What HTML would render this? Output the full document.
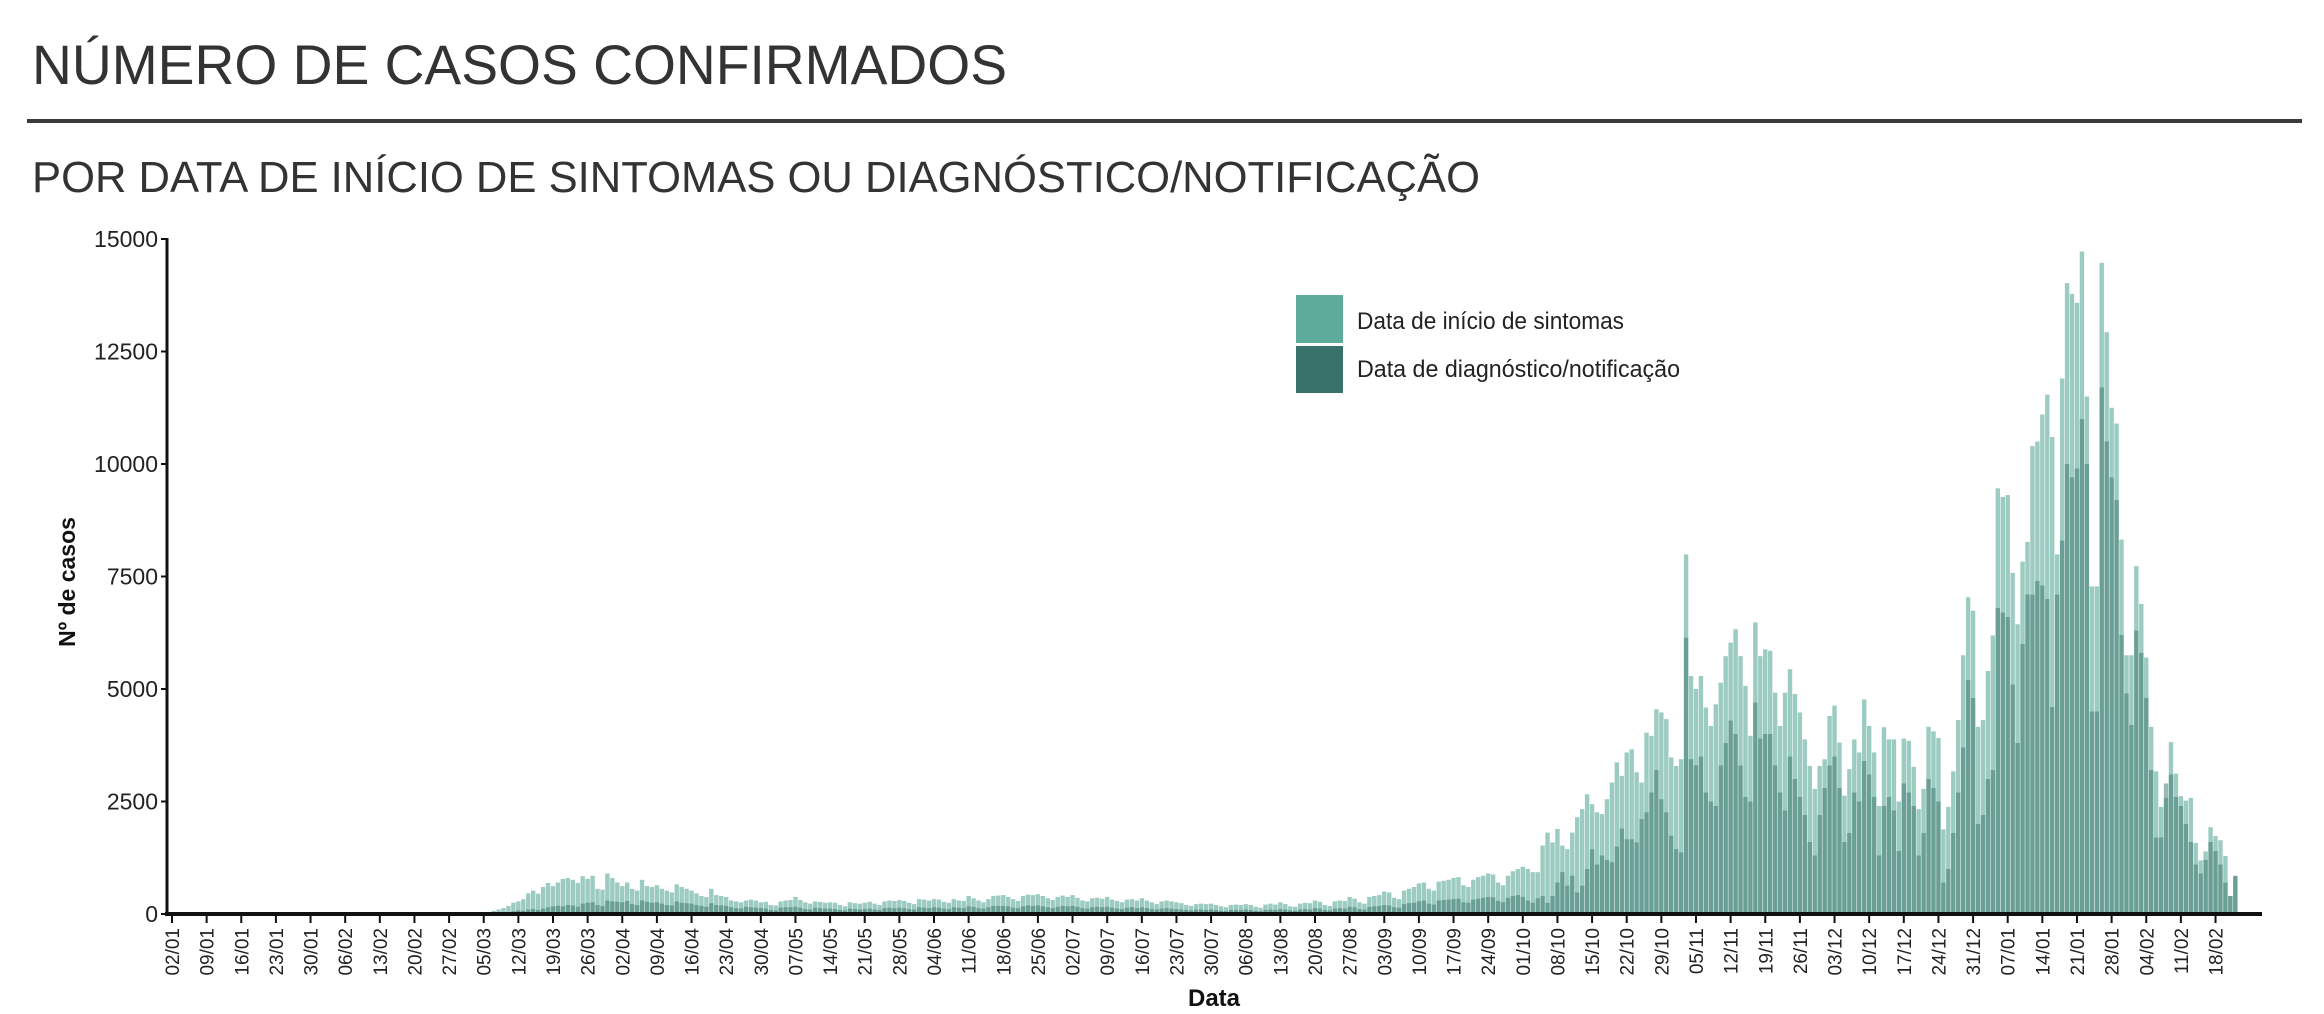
<!DOCTYPE html>
<html><head><meta charset="utf-8"><style>
html,body{margin:0;padding:0;background:#fff;}
svg{display:block;font-family:"Liberation Sans",Arial,sans-serif;}
</style></head><body>
<svg id="chart" width="2324" height="1014" viewBox="0 0 2324 1014" xmlns="http://www.w3.org/2000/svg">
<text x="32" y="84" font-size="56" fill="#333" textLength="975" lengthAdjust="spacingAndGlyphs">NÚMERO DE CASOS CONFIRMADOS</text>
<rect x="27" y="119" width="2275" height="4" fill="#3a3a3a"/>
<text x="32" y="192" font-size="44" fill="#333" textLength="1448" lengthAdjust="spacingAndGlyphs">POR DATA DE INÍCIO DE SINTOMAS OU DIAGNÓSTICO/NOTIFICAÇÃO</text>
<g id="bars-light"></g>
<g id="bars-dark"></g>
<g id="axes"></g>
<text transform="translate(75,582) rotate(-90)" text-anchor="middle" font-size="23" font-weight="bold" fill="#111">Nº de casos</text>
<text x="1214" y="1006" text-anchor="middle" font-size="24" font-weight="bold" fill="#111">Data</text>
<g>
<rect x="1296" y="295" width="47" height="48" fill="#5fab9b"/>
<rect x="1296" y="346" width="47" height="47" fill="#37736a"/>
<text x="1357" y="329" font-size="24" fill="#222" textLength="267" lengthAdjust="spacingAndGlyphs">Data de início de sintomas</text>
<text x="1357" y="377" font-size="24" fill="#222" textLength="323" lengthAdjust="spacingAndGlyphs">Data de diagnóstico/notificação</text>
</g>
</svg>
<script>
// first data day = 2020-03-01 (day index 59 counted from 2020-01-02)
const startDay = 59;
const yTicks = [0, 2500, 5000, 7500, 10000, 12500, 15000];
const xTickLabels = ["02/01","09/01","16/01","23/01","30/01","06/02","13/02","20/02","27/02","05/03","12/03","19/03","26/03","02/04","09/04","16/04","23/04","30/04","07/05","14/05","21/05","28/05","04/06","11/06","18/06","25/06","02/07","09/07","16/07","23/07","30/07","06/08","13/08","20/08","27/08","03/09","10/09","17/09","24/09","01/10","08/10","15/10","22/10","29/10","05/11","12/11","19/11","26/11","03/12","10/12","17/12","24/12","31/12","07/01","14/01","21/01","28/01","04/02","11/02","18/02"];
const symptomCases = [
0,0,5,10,
20,40,70,100,130,180,250,
280,330,460,520,450,600,690,
620,700,780,800,760,690,840,
780,850,560,540,900,800,700,
620,700,560,520,760,620,600,
640,560,520,480,660,600,560,
520,460,400,380,560,420,400,
380,300,280,260,300,320,300,
260,270,200,190,280,300,310,
380,310,260,230,280,270,250,
260,250,200,170,260,240,230,
250,270,230,200,280,300,290,
310,290,250,220,330,320,300,
330,320,270,250,330,300,290,
400,350,300,260,330,400,410,
420,380,330,290,400,430,420,
440,400,350,310,380,410,380,
420,360,300,280,350,360,340,
380,320,290,260,320,330,300,
350,300,260,220,280,300,280,
260,240,200,180,220,230,220,
230,200,170,150,200,210,200,
220,200,160,140,210,230,210,
260,220,170,160,230,250,240,
300,270,200,180,280,300,290,
380,340,260,230,380,400,420,
500,480,360,330,520,560,600,
680,700,560,520,720,740,760,
800,820,640,600,760,820,850,
900,880,700,640,850,950,1000,
1050,
1000,930,930,1520,1810,1590,1890,1520,1440,1810,2150,2330,2660,2440,2260,2220,2550,2920,3370,3070,3590,3660,3150,2920,4030,3960,4550,4480,4330,3480,3290,3440,
7990,5290,5000,5290,4590,4180,4660,5140,5730,6030,6330,5730,5070,3960,6480,5730,5880,5850,4920,4180,4920,5440,4890,4480,3880,3290,2780,3290,3440,4400,4630,3810,2630,3220,3880,3590,4770,4180,3590,2400,4150,3880,3880,2500,
3900,3850,3270,2330,2780,4160,4060,3910,1880,2380,3170,4310,5750,7040,6740,4160,4310,5400,6190,9460,9270,9310,7580,6440,7830,8270,10400,10500,11100,11540,10600,7990,11900,14020,13780,13580,14720,11500,7280,7280,14470,12930,11250,10900,8320,5750,5750,7730,6890,5700,4160,3170,2380,2580,3820,3120,2620,2520,2580,1580,1190,1390,1930,1730,1640,1290,400,840
];
const diagnosisCases = [
0,0,0,0,
0,10,15,20,30,40,60,
80,70,100,110,90,120,150,
170,180,170,200,190,160,230,
250,260,200,180,300,280,270,
260,290,220,200,300,270,250,
260,230,200,190,280,250,240,
230,200,180,160,240,200,190,
180,150,130,120,160,150,140,
130,120,90,80,140,150,150,
160,140,110,100,140,130,120,
120,110,90,80,120,110,100,
110,120,100,90,130,140,130,
140,130,110,100,150,140,130,
150,140,120,110,150,140,130,
170,160,130,120,150,180,180,
180,170,140,130,170,190,180,
190,170,150,130,160,180,170,
180,160,130,120,150,160,150,
160,140,120,110,140,150,130,
150,130,110,100,120,130,120,
110,100,90,80,100,100,90,
100,90,70,60,90,90,90,
100,90,70,60,90,100,90,
110,100,80,70,100,110,100,
130,120,90,80,120,130,120,
160,150,110,100,160,170,180,
200,190,150,140,220,240,250,
280,300,230,210,300,310,320,
330,340,260,250,320,340,360,
380,370,290,260,360,400,420,
380,
300,250,350,400,250,400,700,930,630,850,480,630,1000,1440,1100,1300,1200,1150,1500,1900,1660,1660,1590,2110,2260,2700,3200,2550,2260,1740,1440,1370,
6140,3440,3300,3500,2700,2500,2400,3300,3800,4300,4000,3300,2600,2500,4700,3900,4000,4000,3300,2700,2300,3500,3000,2600,2200,1600,1300,2200,2800,3300,3500,2800,1600,1800,2700,2500,3400,3100,2600,1300,2400,2600,2300,1400,
2900,2700,2400,1300,1800,3000,2800,2500,700,1000,1800,2700,3700,5200,4800,2000,2200,3000,3200,6800,6700,6600,5100,3800,6000,7100,7100,7400,7300,7000,4600,7100,8300,10000,9700,9900,11000,10000,4500,4500,11700,10500,9700,9200,6200,4900,4200,6300,5800,4800,3200,1700,1700,2900,3100,2600,2400,2000,1600,1100,900,1200,1600,1400,1100,700,400,850
];

const NS = "http://www.w3.org/2000/svg";
const X0 = 172, PX_PER_DAY = 4.948, Y0 = 914, Y_MAX_PX = 239, Y_MAX = 15000;
function xScale(day){ return X0 + day * PX_PER_DAY; }
function yScale(v){ return Y0 - (v / Y_MAX) * (Y0 - Y_MAX_PX); }

function drawBars(groupId, values, color, opacity, name){
  const g = document.getElementById(groupId);
  values.forEach(function(v, i){
    if (v <= 0) return;
    const day = startDay + i;
    const r = document.createElementNS(NS, "rect");
    r.setAttribute("x", (xScale(day) - 2.2).toFixed(2));
    r.setAttribute("y", yScale(v).toFixed(2));
    r.setAttribute("width", "4.4");
    r.setAttribute("height", (Y0 - yScale(v)).toFixed(2));
    r.setAttribute("fill", color);
    r.setAttribute("fill-opacity", opacity);
    
    
    g.appendChild(r);
  });
}
drawBars("bars-light", symptomCases, "#5fab9b", "0.62", "symptom-bar");
drawBars("bars-dark", diagnosisCases, "#37736a", "0.5", "diagnosis-bar");

const ax = document.getElementById("axes");
function line(x1,y1,x2,y2,w){
  const l = document.createElementNS(NS, "line");
  l.setAttribute("x1",x1); l.setAttribute("y1",y1); l.setAttribute("x2",x2); l.setAttribute("y2",y2);
  l.setAttribute("stroke","#111"); l.setAttribute("stroke-width",w);
  return l;
}
const yAxis = line(167, Y_MAX_PX - 1, 167, Y0 + 2, 3);


ax.appendChild(yAxis);
const xAxis = line(165, Y0, 2262, Y0, 4);


ax.appendChild(xAxis);

yTicks.forEach(function(v){
  const y = yScale(v);
  const t = line(161, y, 167, y, 2);
  
  
  ax.appendChild(t);
  const tx = document.createElementNS(NS, "text");
  tx.setAttribute("x", 158); tx.setAttribute("y", y + 8);
  tx.setAttribute("text-anchor", "end"); tx.setAttribute("font-size", "23");
  tx.setAttribute("fill", "#222");
  tx.textContent = v;
  
  
  ax.appendChild(tx);
});

xTickLabels.forEach(function(lbl, i){
  const x = xScale(i * 7);
  const t = line(x, Y0, x, Y0 + 9, 2);
  
  
  ax.appendChild(t);
  const tx = document.createElementNS(NS, "text");
  tx.setAttribute("transform", "translate(" + (x + 7).toFixed(2) + "," + (Y0 + 14) + ") rotate(-90)");
  tx.setAttribute("text-anchor", "end"); tx.setAttribute("font-size", "19");
  tx.setAttribute("fill", "#222");
  tx.textContent = lbl;
  
  
  ax.appendChild(tx);
});
</script>
</body></html>
